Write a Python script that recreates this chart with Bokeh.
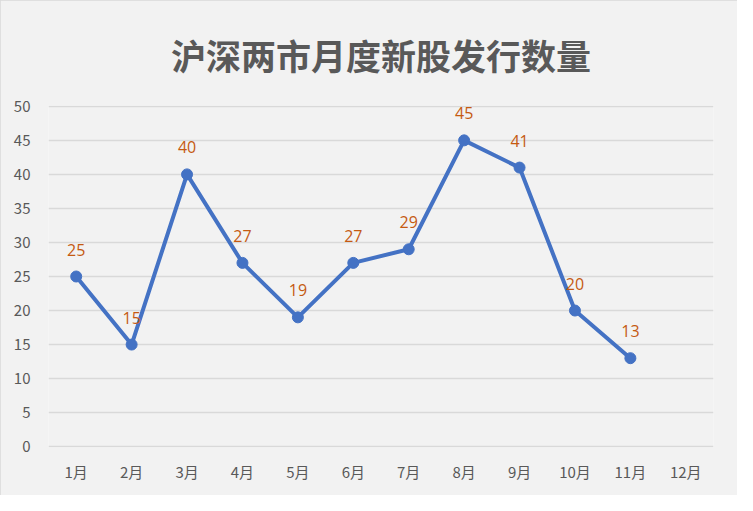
from bokeh.plotting import figure
from bokeh.models import ColumnDataSource, FactorRange, SingleIntervalTicker
from bokeh.core.properties import value
from bokeh.embed import file_html
from bokeh.resources import INLINE

title_text = "沪深两市月度新股发行数量"
months = ["1月", "2月", "3月", "4月", "5月", "6月", "7月", "8月", "9月", "10月", "11月", "12月"]
counts = [25, 15, 40, 27, 19, 27, 29, 45, 41, 20, 13]

src = ColumnDataSource(dict(x=months[:len(counts)], y=counts, lbl=[str(v) for v in counts]))

p = figure(width=737, height=495, x_range=FactorRange(factors=months), y_range=(-0.12, 50.12),
           output_backend="svg", toolbar_location=None,
           min_border_left=48, min_border_right=24, min_border_top=102, min_border_bottom=48)

p.background_fill_color = "#f2f2f2"
p.border_fill_color = "#f2f2f2"
p.outline_line_color = None

p.title.text = title_text
p.title.align = "center"
p.title.offset = -13
p.title.text_font = "Noto Sans CJK SC"
p.title.text_font_size = "35px"
p.title.text_font_style = "bold"
p.title.text_color = "#595959"
p.title.standoff = 52

p.xgrid.grid_line_color = None
p.ygrid.grid_line_color = "#d9d9d9"
p.ygrid.grid_line_width = 1.5
p.yaxis.ticker = SingleIntervalTicker(interval=5)

for ax in (p.xaxis, p.yaxis):
    ax.axis_line_color = None
    ax.major_tick_line_color = None
    ax.minor_tick_line_color = None
    ax.major_label_text_color = "#595959"
    ax.major_label_text_font = "Noto Sans CJK SC"
    ax.major_label_text_font_size = "15px"
p.yaxis.major_label_standoff = 12
p.xaxis.major_label_standoff = 7

p.line("x", "y", source=src, line_color="#4472c4", line_width=4)
p.scatter("x", "y", source=src, size=11, fill_color="#4472c4", line_color="#4472c4")
p.text("x", "y", text="lbl", source=src, text_color="#c55a11", text_align="center",
       text_baseline="middle", y_offset=-27, text_font=value("Open Sans"), text_font_size="16px")

p.styles = {"outline": "2px solid #d9d9d9", "outline-offset": "-2px"}

open("out.html", "w").write(file_html(p, INLINE))
